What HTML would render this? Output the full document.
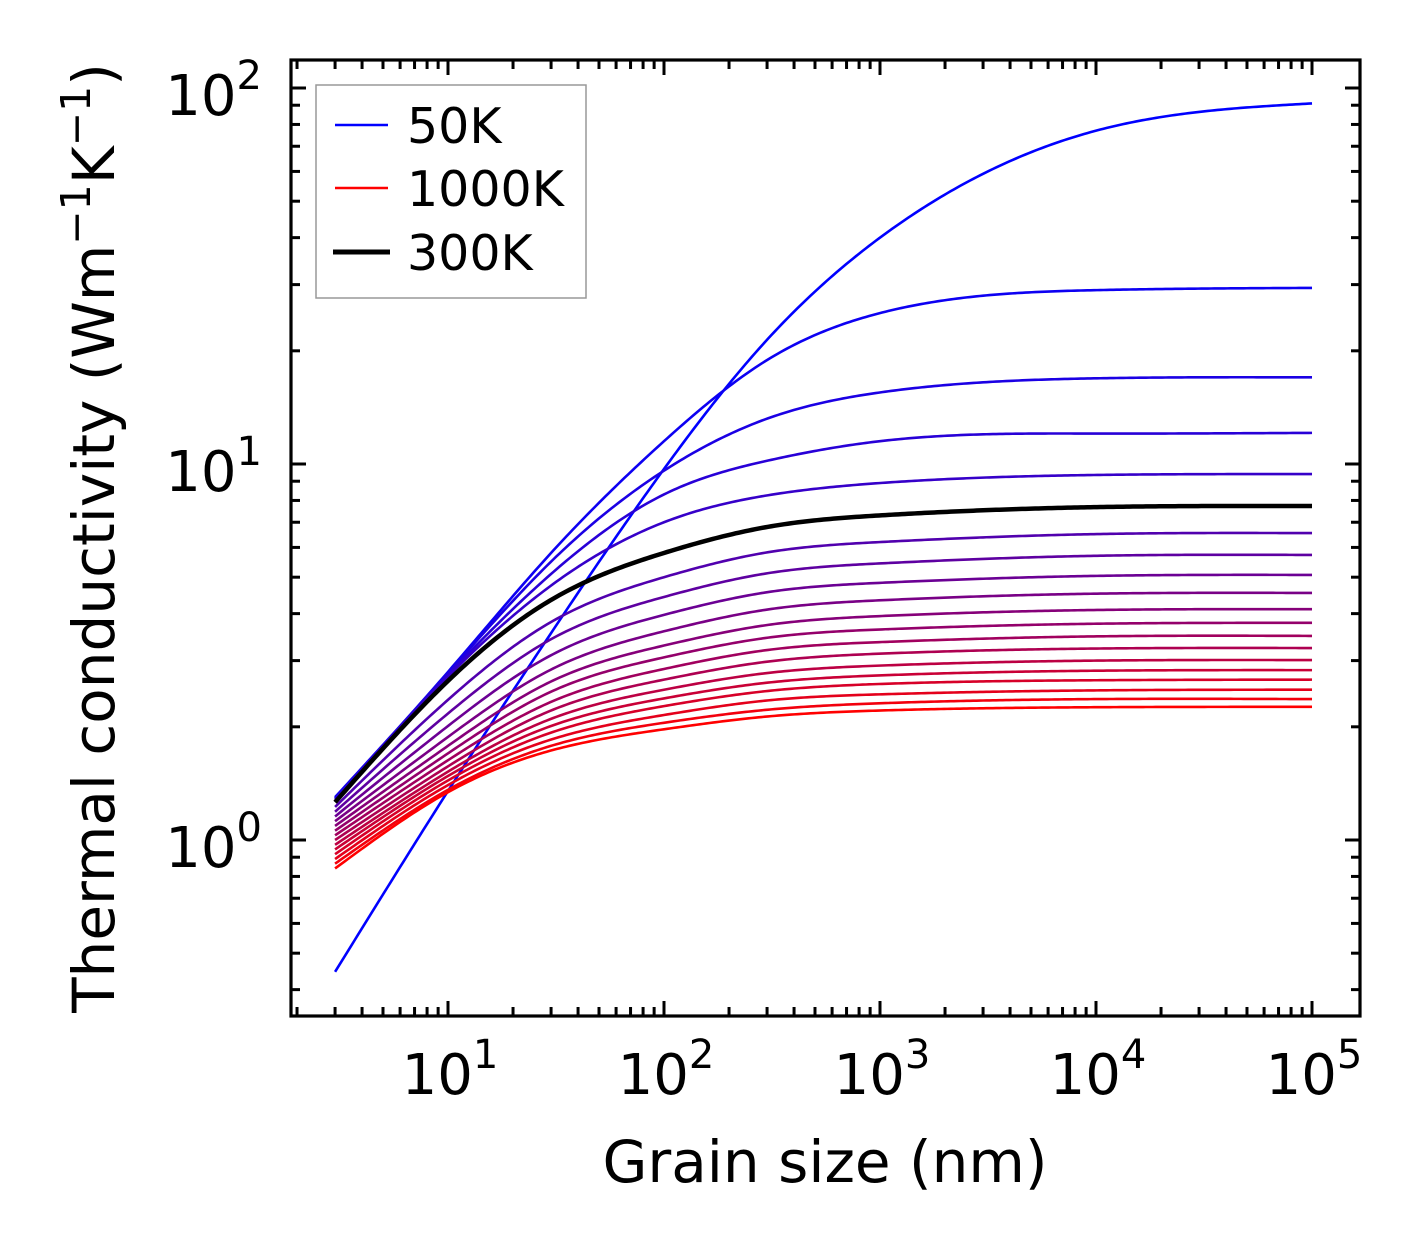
<!DOCTYPE html>
<html><head><meta charset="utf-8"><style>
html,body{margin:0;padding:0;background:#fff;}
svg{display:block;font-family:"DejaVu Sans","Liberation Sans",sans-serif;}
</style></head><body>
<svg id="chart" width="1421" height="1254" viewBox="0 0 1421 1254" xmlns="http://www.w3.org/2000/svg">
<rect x="0" y="0" width="1421" height="1254" fill="#fff"/>
<g id="curves"></g>
<g id="ticks"></g>
<rect x="291" y="60" width="1069" height="956" fill="none" stroke="#000" stroke-width="3.2"/>
<g id="labels"></g>
<text x="825" y="1182" font-size="58" text-anchor="middle">Grain size (nm)</text>
<text transform="translate(114,538) rotate(-90)" font-size="58" text-anchor="middle">Thermal conductivity (Wm<tspan font-size="41" dy="-24">−1</tspan><tspan dy="24">K</tspan><tspan font-size="41" dy="-24">−1</tspan><tspan dy="24">)</tspan></text>
<g>
<rect x="316" y="85" width="270" height="213" fill="#fff" stroke="#999" stroke-width="1.5"/>
<line x1="335" y1="125" x2="388" y2="125" stroke="#0000ff" stroke-width="2.5"/>
<text x="407" y="143" font-size="49">50K</text>
<line x1="335" y1="188" x2="388" y2="188" stroke="#ff0000" stroke-width="2.5"/>
<text x="407" y="206" font-size="49">1000K</text>
<line x1="333" y1="252" x2="390" y2="252" stroke="#000" stroke-width="5"/>
<text x="407" y="270" font-size="49">300K</text>
</g>
</svg>
<script>
const grainSizes = [3, 10, 30, 100, 300, 1000, 10000, 100000];
const temperatures = [50,100,150,200,250,300,350,400,450,500,550,600,650,700,750,800,850,900,950,1000];
const k50 = [0.446, 1.35, 3.55, 9.7, 21.4, 40, 77, 91];
const k100 = [1.30, 2.8, 5.8, 11.5, 18.9, 25.2, 29.0, 29.4];
const k150 = [1.29, 2.78, 5.5, 9.6, 13.2, 15.5, 16.9, 17.0];
const k200 = [1.28, 2.75, 5.1, 8.3, 10.2, 11.5, 12.05, 12.1];
const k250 = [1.27, 2.72, 4.75, 7.0, 8.25, 8.9, 9.35, 9.4];
const k300 = [1.26, 2.65, 4.35, 5.8, 6.8, 7.3, 7.68, 7.73];
const k350 = [1.224, 2.36, 3.80, 5.00, 5.82, 6.20, 6.51, 6.55];
const k400 = [1.189, 2.17, 3.42, 4.43, 5.12, 5.44, 5.70, 5.73];
const k450 = [1.155, 2.01, 3.10, 3.97, 4.56, 4.83, 5.04, 5.07];
const k500 = [1.122, 1.88, 2.84, 3.59, 4.10, 4.34, 4.52, 4.54];
const k550 = [1.090, 1.78, 2.64, 3.29, 3.73, 3.94, 4.09, 4.11];
const k600 = [1.059, 1.70, 2.48, 3.06, 3.45, 3.63, 3.76, 3.78];
const k650 = [1.029, 1.63, 2.33, 2.85, 3.20, 3.36, 3.48, 3.49];
const k700 = [1.000, 1.57, 2.21, 2.67, 2.98, 3.13, 3.23, 3.24];
const k750 = [0.971, 1.52, 2.10, 2.51, 2.78, 2.91, 3.00, 3.01];
const k800 = [0.944, 1.48, 2.01, 2.38, 2.62, 2.74, 2.82, 2.83];
const k850 = [0.917, 1.44, 1.93, 2.27, 2.49, 2.60, 2.66, 2.67];
const k900 = [0.890, 1.40, 1.85, 2.15, 2.35, 2.44, 2.50, 2.51];
const k950 = [0.865, 1.36, 1.78, 2.05, 2.22, 2.31, 2.37, 2.37];
const k1000 = [0.840, 1.34, 1.73, 1.97, 2.13, 2.21, 2.255, 2.26];
const xTickExps = [1, 2, 3, 4, 5];
const yTickExps = [0, 1, 2];

const series = [k50,k100,k150,k200,k250,k300,k350,k400,k450,k500,k550,k600,k650,k700,k750,k800,k850,k900,k950,k1000];
const NS = "http://www.w3.org/2000/svg";
const PL = 291, PR = 1360, PT = 60, PB = 1016;
const XMIN = 0.2731, XMAX = 5.2222, YMIN = -0.4681, YMAX = 2.0745;
function xs(d){ return PL + (Math.log10(d) - XMIN) / (XMAX - XMIN) * (PR - PL); }
function ys(v){ return PB - (Math.log10(v) - YMIN) / (YMAX - YMIN) * (PB - PT); }

// natural cubic spline (C2 smooth) in log-log space
function spline(X, Y){
  const n = X.length, h = [], a = [], b = [], c = [], r = [], M = new Array(n).fill(0);
  for (let i=0;i<n-1;i++) h[i] = X[i+1]-X[i];
  for (let i=1;i<n-1;i++){
    a[i]=h[i-1]; b[i]=2*(h[i-1]+h[i]); c[i]=h[i];
    r[i]=6*((Y[i+1]-Y[i])/h[i]-(Y[i]-Y[i-1])/h[i-1]);
  }
  for (let i=2;i<n-1;i++){ const w=a[i]/b[i-1]; b[i]-=w*c[i-1]; r[i]-=w*r[i-1]; }
  for (let i=n-2;i>=1;i--){ M[i]=(r[i]-(i<n-2?c[i]*M[i+1]:0))/b[i]; }
  return function(x){
    let i=0; while (i<n-2 && x>X[i+1]) i++;
    const t1=X[i+1]-x, t0=x-X[i], hi=h[i];
    return M[i]*t1*t1*t1/(6*hi)+M[i+1]*t0*t0*t0/(6*hi)+(Y[i]/hi-M[i]*hi/6)*t1+(Y[i+1]/hi-M[i+1]*hi/6)*t0;
  };
}

const curves = document.getElementById('curves');
const lx = grainSizes.map(d => Math.log10(d));
function drawSeries(idx){
  const vals = series[idx];
  const f = spline(lx, vals.map(v => Math.log10(v)));
  let dstr = '';
  const a = lx[0], b = lx[lx.length-1];
  for (let k=0;k<=300;k++){
    const L = a + (b-a)*k/300;
    const d = Math.pow(10, L), v = Math.pow(10, f(L));
    dstr += (k?'L':'M') + xs(d).toFixed(2) + ' ' + ys(v).toFixed(2);
  }
  const p = document.createElementNS(NS, 'path');
  p.setAttribute('d', dstr);
  p.setAttribute('fill', 'none');
  const T = temperatures[idx];
  if (T === 300){ p.setAttribute('stroke', '#000'); p.setAttribute('stroke-width', '4.5'); }
  else {
    const j = idx/(temperatures.length-1);
    p.setAttribute('stroke', 'rgb(' + Math.round(255*j) + ',0,' + Math.round(255*(1-j)) + ')');
    p.setAttribute('stroke-width', '2.6');
  }
  p.setAttribute('stroke-linejoin', 'round');
  
  
  curves.appendChild(p);
}
for (let i=0;i<series.length;i++){ if (temperatures[i] !== 300) drawSeries(i); }
drawSeries(temperatures.indexOf(300));

const ticks = document.getElementById('ticks');
function tick(x1,y1,x2,y2,name){
  const l = document.createElementNS(NS, 'line');
  l.setAttribute('x1',x1); l.setAttribute('y1',y1); l.setAttribute('x2',x2); l.setAttribute('y2',y2);
  l.setAttribute('stroke','#000'); l.setAttribute('stroke-width','3');
  
  
  ticks.appendChild(l);
}
for (let e=0;e<=5;e++){
  for (let m=1;m<=9;m++){
    const L = e + Math.log10(m);
    if (L < XMIN || L > XMAX) continue;
    const x = xs(Math.pow(10,L)), len = (m===1)?15:9;
    tick(x, PB, x, PB-len, 'x-tick');
    tick(x, PT, x, PT+len, 'x-tick-top');
  }
}
for (let e=-1;e<=2;e++){
  for (let m=1;m<=9;m++){
    const L = e + Math.log10(m);
    if (L < YMIN || L > YMAX) continue;
    const y = ys(Math.pow(10,L)), len = (m===1)?15:9;
    tick(PL, y, PL+len, y, 'y-tick');
    tick(PR, y, PR-len, y, 'y-tick-right');
  }
}
const labels = document.getElementById('labels');
function powLabel(x, y, exp, anchor, name){
  const t = document.createElementNS(NS, 'text');
  t.setAttribute('x', x); t.setAttribute('y', y);
  t.setAttribute('font-size', '56');
  t.setAttribute('text-anchor', anchor);
  
  
  t.innerHTML = '10<tspan font-size="40" dy="-26">' + exp + '</tspan>';
  labels.appendChild(t);
}
xTickExps.forEach(e => powLabel(xs(Math.pow(10,e)) + 2, 1094, e, 'middle', 'x-tick-label'));
yTickExps.forEach(e => powLabel(262, ys(Math.pow(10,e)) + 27, e, 'end', 'y-tick-label'));
</script>
</body></html>
